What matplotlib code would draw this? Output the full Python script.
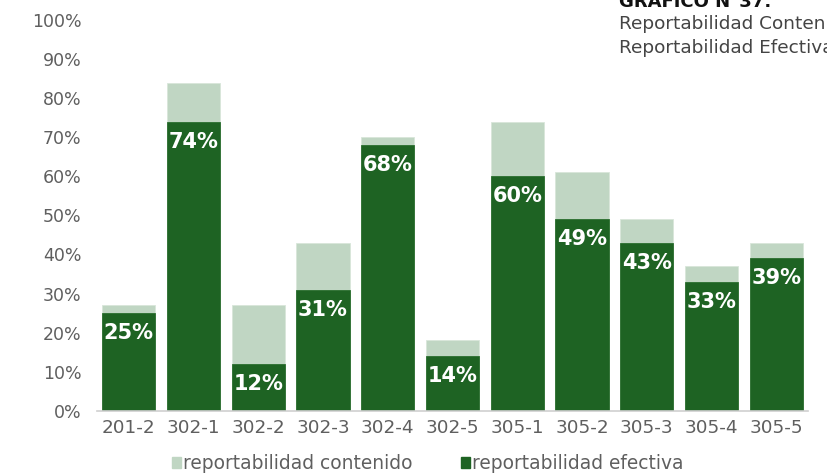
import matplotlib.pyplot as plt
from matplotlib.patches import Patch

categories = ['201-2', '302-1', '302-2', '302-3', '302-4', '302-5',
              '305-1', '305-2', '305-3', '305-4', '305-5']
contenido = [27, 84, 27, 43, 70, 18, 74, 61, 49, 37, 43]
efectiva = [25, 74, 12, 31, 68, 14, 60, 49, 43, 33, 39]
yticks = [0, 10, 20, 30, 40, 50, 60, 70, 80, 90, 100]

light = '#c0d6c3'
dark = '#1e6323'
gray = '#5f5f5f'

plt.rcParams['font.family'] = ['DejaVu Sans']

fig = plt.figure(figsize=(8.27, 4.74), dpi=100)
ax = fig.add_axes([0.1173, 0.1335, 0.8597, 0.8243])

x = range(len(categories))
ax.bar(x, contenido, width=0.82, color=light, edgecolor='#d8e6da', linewidth=0.6)
ax.bar(x, efectiva, width=0.82, color=dark, edgecolor='#2a6e2e', linewidth=0.6)

for i, v in enumerate(efectiva):
    ax.annotate(f'{v}%', (i, v), xytext=(0, -14.5), textcoords='offset points',
                ha='center', va='center', color='white', fontsize=15,
                fontweight='bold')

ax.set_xlim(-0.49, 10.49)
ax.set_ylim(0, 100)
ax.set_xticks(list(x))
ax.set_xticklabels(categories, fontsize=13.2, color=gray)
ax.set_yticks(yticks)
ax.set_yticklabels([f'{t}%' for t in yticks], fontsize=12.5, color=gray)
ax.tick_params(axis='both', length=0)
ax.tick_params(axis='y', pad=11)
ax.tick_params(axis='x', pad=6)
for s in ['top', 'right', 'left']:
    ax.spines[s].set_visible(False)
ax.spines['bottom'].set_color('#cfcfcf')
ax.spines['bottom'].set_linewidth(1.2)

handles = [Patch(color=light, label='reportabilidad contenido'),
           Patch(color=dark, label='reportabilidad efectiva')]
fig.legend(handles=handles, loc='center', bbox_to_anchor=(0.517, 0.022),
           ncol=2, frameon=False, fontsize=13.4, handlelength=0.5,
           handleheight=0.5, handletextpad=0.1, columnspacing=2.6,
           labelcolor=gray)

fig.text(0.749, 0.985, 'GRÁFICO N°37:', fontsize=13, fontweight='bold',
         color='#111111', va='baseline')
fig.text(0.749, 0.939, 'Reportabilidad Contenido', fontsize=13.3,
         color='#444444', va='baseline')
fig.text(0.749, 0.888, 'Reportabilidad Efectiva', fontsize=13.3,
         color='#444444', va='baseline')

fig.savefig('out.png', dpi=100)
